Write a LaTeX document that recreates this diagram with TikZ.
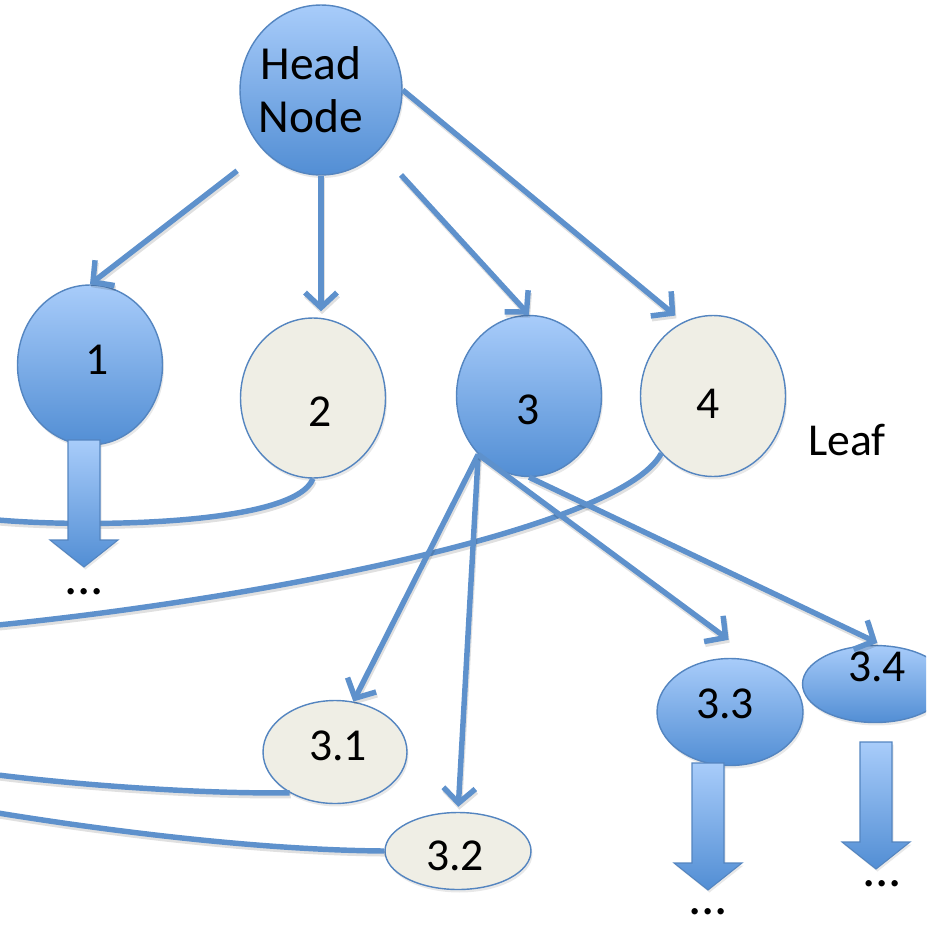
\documentclass[tikz,border=0pt]{standalone}
\usepackage{fontspec}
\setmainfont{Carlito}
\definecolor{tree_line}{RGB}{94, 145, 204}
\definecolor{tree_edge}{RGB}{84, 133, 192}
\definecolor{tree_top}{RGB}{168, 204, 250}
\definecolor{tree_bot}{RGB}{82, 142, 212}
\definecolor{tree_leaf}{RGB}{239, 238, 229}
\usetikzlibrary{arrows.meta, shapes.geometric, shadows}

\begin{document}
\begin{tikzpicture}[
        x=0.02cm, y=-0.02cm,
        every node/.style={font=\fontsize{26}{30}\selectfont},
        ell/.style={ellipse, draw=tree_edge, line width=0.8pt, inner sep=0pt,
                    drop shadow={shadow xshift=0.03cm, shadow yshift=-0.06cm, opacity=0.18}},
        inner/.style={ell, top color=tree_top, bottom color=tree_bot},
        leaf/.style={ell, fill=tree_leaf},
        lineshadow/.style={preaction={draw=black, opacity=0.12, line width=3.1pt,
                    transform canvas={xshift=0.6pt, yshift=-1.6pt}}},
        link/.style={draw=tree_line, line width=3.1pt, lineshadow,
                    -{Straight Barb[length=0.3cm, width=0.64cm]}},
        curvelink/.style={draw=tree_line, line width=3.1pt, lineshadow},
        dots/.style={anchor=base, font=\fontsize{30}{30}\selectfont},
        pics/dnarrow/.style={code={
            \shade[top color=tree_top, bottom color=tree_bot, draw=tree_edge, line width=0.6pt,
                   drop shadow={shadow xshift=0.03cm, shadow yshift=-0.05cm, opacity=0.18}]
              (-16,0) -- (16,0) -- (16,100) -- (34,100) -- (0,127) -- (-34,100) -- (-16,100) -- cycle;
        }},
      ]
        \useasboundingbox (0,0) rectangle (926,926);
        \clip (0,0) rectangle (926,926);

        \node[inner, minimum width=3.24cm, minimum height=3.4cm,
              label={[shift={(-10,0)}, align=center, font=\fontsize{27}{30}\selectfont]center:Head\\Node}]
              (head) at (321,90) {};
        \node[inner, minimum width=2.9cm, minimum height=3.2cm,
              label={[shift={(7,-5)}]center:1}]   (n1)  at (90,365)  {};
        \node[leaf,  minimum width=2.9cm, minimum height=3.2cm,
              label={[shift={(7,14)}]center:2}]   (n2)  at (313,398) {};
        \node[inner, minimum width=2.9cm, minimum height=3.22cm,
              label={[shift={(-1,14)}]center:3}]  (n3)  at (529,396) {};
        \node[leaf,  minimum width=2.9cm, minimum height=3.22cm,
              label={[shift={(-5,8)}]center:4}]   (n4)  at (713,396) {};
        \node (leafname) at (847,440) {Leaf};

        \node[leaf,  minimum width=2.88cm, minimum height=2.06cm,
              label={[shift={(3,-6)}]center:3.1}]  (n31) at (335,752) {};
        \node[leaf,  minimum width=2.92cm, minimum height=1.54cm,
              label={[shift={(-3,5)}]center:3.2}]  (n32) at (458,851) {};
        \node[inner, minimum width=2.92cm, minimum height=2.14cm,
              label={[shift={(-5,-8)}]center:3.3}] (n33) at (730,712) {};
        \node[inner, minimum width=2.9cm, minimum height=1.54cm,
              label={[shift={(2,-17)}]center:3.4}] (n34) at (875,684) {};

        \coordinate (e2)  at (-2,520);
        \coordinate (e4)  at (-2,625);
        \coordinate (e31) at (-2,775);
        \coordinate (e32) at (-2,813);

        \draw[curvelink] (n2.south) .. controls (295,525) and (90,528) .. (e2);
        \draw[curvelink] (n4.228) .. controls (620,530) and (250,600) .. (e4);
        \draw[curvelink] (n31.222) .. controls (200,794) and (80,785) .. (e31);
        \draw[curvelink] (n32.west) .. controls (250,850) and (90,828) .. (e32);

        \draw[link, shorten <=0.66cm] (head.south west) -- (n1.north);
        \draw[link, shorten >=0.12cm] (head.south) -- (head.south |- n2.north);
        \draw[link, shorten <=0.66cm] (head.south east) -- (n3.north);
        \draw[link, shorten >=0.2cm]  (head.east) -- (n4.112);

        \draw[link] (n3.229) -- (n31.70);
        \draw[link, shorten >=0.1cm]  (n3.229) -- (n32.north);
        \draw[link, shorten >=0.75cm] (n3.229) -- (n33.60);
        \draw[link, shorten >=0.1cm]  (n3.south) -- (n34.80);

        \pic (down1)  at (84,440)  {dnarrow};
        \pic (down33) at (708,763) {dnarrow};
        \pic (down34) at (876,742) {dnarrow};

        \node[dots] (more1)  at (84,594)  {...};
        \node[dots] (more33) at (708,914) {...};
        \node[dots] (more34) at (882,886) {...};
      \end{tikzpicture}
\end{document}
